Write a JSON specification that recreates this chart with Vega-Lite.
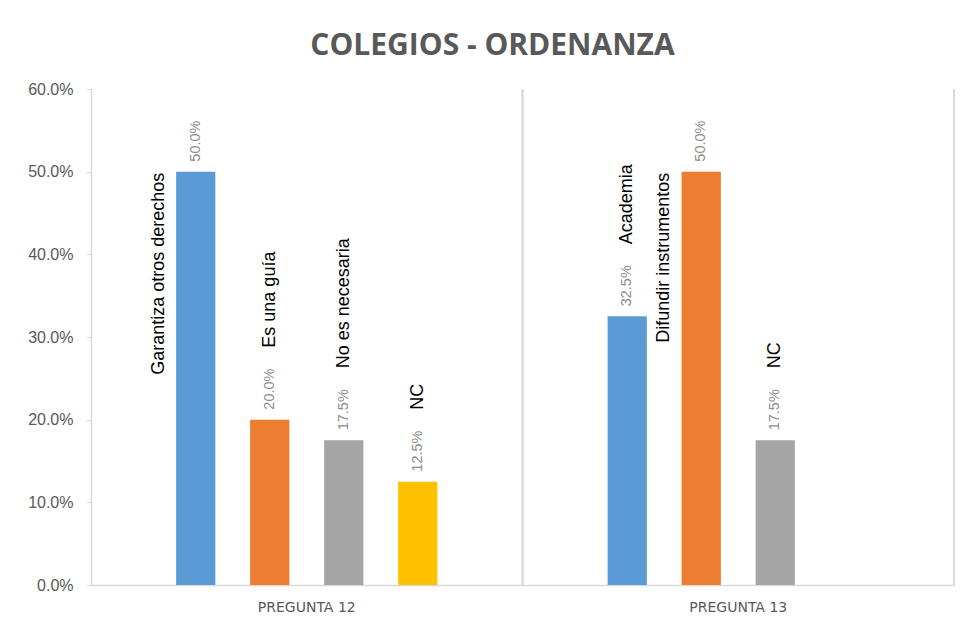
{
  "$schema": "https://vega.github.io/schema/vega-lite/v6.json",
  "width": 863,
  "height": 496,
  "autosize": "none",
  "padding": {"left": 91, "top": 89, "right": 15, "bottom": 39},
  "background": "white",
  "config": {"view": {"stroke": null}, "font": "Liberation Sans"},
  "title": {
    "text": "COLEGIOS  - ORDENANZA",
    "font": "Open Sans",
    "fontSize": 30,
    "fontWeight": "bold",
    "color": "#595959",
    "anchor": "middle",
    "frame": "group",
    "dx": -30,
    "dy": 36,
    "baseline": "bottom",
    "offset": 26
  },
  "data": {
    "values": [
      {"pregunta": "PREGUNTA 12", "serie": "s1", "nombre": "Garantiza otros derechos", "valor": 0.5},
      {"pregunta": "PREGUNTA 12", "serie": "s2", "nombre": "Es una guía", "valor": 0.2},
      {"pregunta": "PREGUNTA 12", "serie": "s3", "nombre": "No es necesaria", "valor": 0.175},
      {"pregunta": "PREGUNTA 12", "serie": "s4", "nombre": "NC", "valor": 0.125},
      {"pregunta": "PREGUNTA 13", "serie": "s1", "nombre": "Academia", "valor": 0.325},
      {"pregunta": "PREGUNTA 13", "serie": "s2", "nombre": "Difundir instrumentos", "valor": 0.5},
      {"pregunta": "PREGUNTA 13", "serie": "s3", "nombre": "NC", "valor": 0.175}
    ]
  },
  "encoding": {
    "x": {
      "field": "pregunta",
      "type": "nominal",
      "title": null,
      "scale": {"paddingInner": 0, "paddingOuter": 0},
      "axis": {
        "labelAngle": 0,
        "ticks": false,
        "domainColor": "#D9D9D9",
        "domainWidth": 1.5,
        "labelColor": "#595959",
        "labelFontSize": 14,
        "labelPadding": 15,
        "labelFont": "DejaVu Sans"
      }
    },
    "y": {
      "field": "valor",
      "type": "quantitative",
      "title": null,
      "scale": {"domain": [0, 0.6], "nice": false},
      "axis": {
        "values": [0, 0.1, 0.2, 0.3, 0.4, 0.5, 0.6],
        "format": ".1%",
        "grid": false,
        "domainColor": "#D9D9D9",
        "domainWidth": 1.5,
        "tickColor": "#D9D9D9",
        "tickSize": 5,
        "labelPadding": 13,
        "labelColor": "#595959",
        "labelFontSize": 16
      }
    }
  },
  "layer": [
    {
      "mark": {"type": "rule", "color": "#D9D9D9", "strokeWidth": 1.5},
      "encoding": {
        "x": {"field": "pregunta", "type": "nominal", "bandPosition": 1},
        "y": {"datum": 0},
        "y2": {"datum": 0.6}
      }
    },
    {
      "mark": {"type": "bar"},
      "encoding": {
        "xOffset": {
          "field": "serie",
          "type": "nominal",
          "scale": {"domain": ["a", "s1", "s2", "s3", "s4", "b"], "paddingInner": 0.47, "paddingOuter": 0.15}
        },
        "color": {
          "field": "serie",
          "type": "nominal",
          "legend": null,
          "scale": {"domain": ["s1", "s2", "s3", "s4"], "range": ["#5B9BD5", "#ED7D31", "#A5A5A5", "#FFC000"]}
        }
      }
    },
    {
      "mark": {"type": "text", "angle": 270, "align": "left", "baseline": "middle", "dx": 10, "fontSize": 14.5, "color": "#8C8C8C"},
      "encoding": {
        "xOffset": {"field": "serie", "type": "nominal", "scale": {"domain": ["a", "s1", "s2", "s3", "s4", "b"], "paddingInner": 0.47, "paddingOuter": 0.15}},
        "text": {"field": "valor", "type": "quantitative", "format": ".1%"}
      }
    },
    {
      "transform": [{"filter": "datum.valor < 0.5"}],
      "mark": {"type": "text", "angle": 270, "align": "left", "baseline": "middle", "dx": 72, "fontSize": 18, "color": "#000000"},
      "encoding": {
        "xOffset": {"field": "serie", "type": "nominal", "scale": {"domain": ["a", "s1", "s2", "s3", "s4", "b"], "paddingInner": 0.47, "paddingOuter": 0.15}},
        "text": {"field": "nombre", "type": "nominal"}
      }
    },
    {
      "transform": [{"filter": "datum.valor >= 0.5"}],
      "mark": {"type": "text", "angle": 270, "align": "right", "baseline": "middle", "dx": -1, "dy": -37, "fontSize": 18, "color": "#000000"},
      "encoding": {
        "xOffset": {"field": "serie", "type": "nominal", "scale": {"domain": ["a", "s1", "s2", "s3", "s4", "b"], "paddingInner": 0.47, "paddingOuter": 0.15}},
        "text": {"field": "nombre", "type": "nominal"}
      }
    }
  ]
}
